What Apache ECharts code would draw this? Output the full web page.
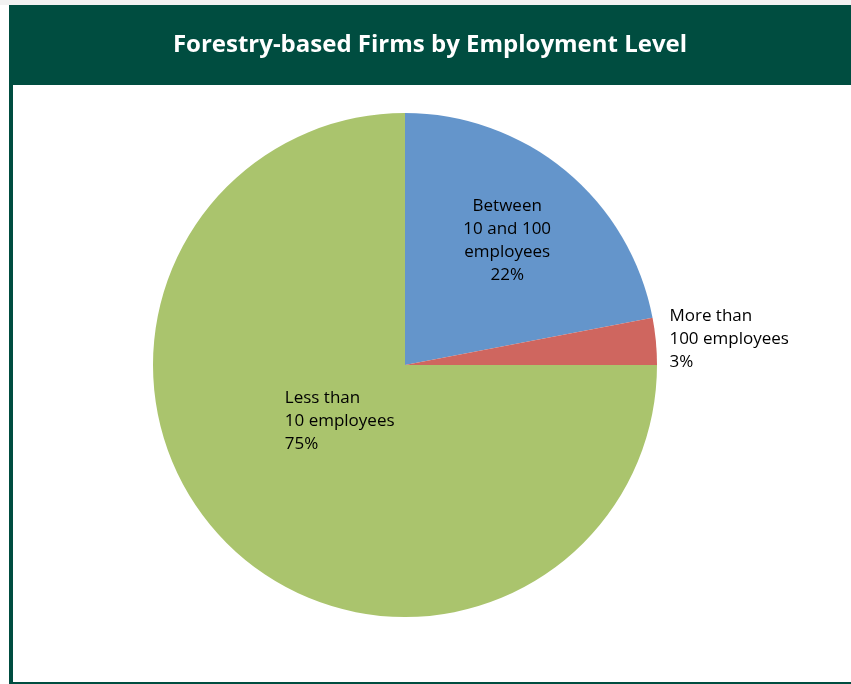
<!DOCTYPE html>
<html>
<head>
<meta charset="utf-8">
<script src="https://cdn.jsdelivr.net/npm/echarts@6/dist/echarts.min.js"></script>
<style>
  html, body { margin: 0; padding: 0; background: #ffffff; }
  #chart { width: 851px; height: 684px; }
</style>
</head>
<body>
<div id="chart"></div>
<script>
// Employment-level breakdown of forestry-based firms
const categories = ['Between\n10 and 100\nemployees', 'More than\n100 employees', 'Less than\n10 employees'];
const shares = [22, 3, 75];
const sliceColors = ['#6495cb', '#cf665f', '#aac46d'];

// Per-slice label placement relative to the slice's inside anchor
const labelAlign = ['center', 'left', 'left'];
const labelShift = [[20, -25], [136, -14], [-29, -35]];

const FRAME = '#004d40';
const chart = echarts.init(document.getElementById('chart'), null, { renderer: 'canvas' });

chart.setOption({
  backgroundColor: '#ffffff',
  animation: false,
  title: {
    text: 'Forestry-based Firms by Employment Level',
    left: 425,
    top: 28,
    textAlign: 'center',
    textStyle: { color: '#ffffff', fontFamily: 'Open Sans', fontWeight: 'bold', fontSize: 24 }
  },
  graphic: [
    { type: 'rect', z: -1, shape: { x: 0, y: 0, width: 851, height: 5 }, style: { fill: '#f2f2f2' } },
    { type: 'rect', z: -1, shape: { x: 9, y: 5, width: 842, height: 80 }, style: { fill: FRAME } },
    { type: 'rect', z: -1, shape: { x: 9, y: 85, width: 4, height: 599 }, style: { fill: FRAME } },
    { type: 'rect', z: -1, shape: { x: 9, y: 682, width: 842, height: 2 }, style: { fill: FRAME } }
  ],
  series: [{
    type: 'pie',
    center: [405, 365],
    radius: 252,
    startAngle: 90,
    clockwise: true,
    label: {
      show: true,
      position: 'inside',
      color: '#000000',
      fontFamily: 'Open Sans',
      fontSize: 17,
      lineHeight: 23,
      formatter: p => p.name + '\n' + p.value + '%'
    },
    labelLine: { show: false },
    labelLayout: p => ({
      align: labelAlign[p.dataIndex],
      dx: labelShift[p.dataIndex][0],
      dy: labelShift[p.dataIndex][1]
    }),
    itemStyle: { borderWidth: 0 },
    emphasis: { disabled: true },
    data: categories.map((name, i) => ({
      name,
      value: shares[i],
      itemStyle: { color: sliceColors[i] }
    }))
  }]
});
</script>
</body>
</html>
